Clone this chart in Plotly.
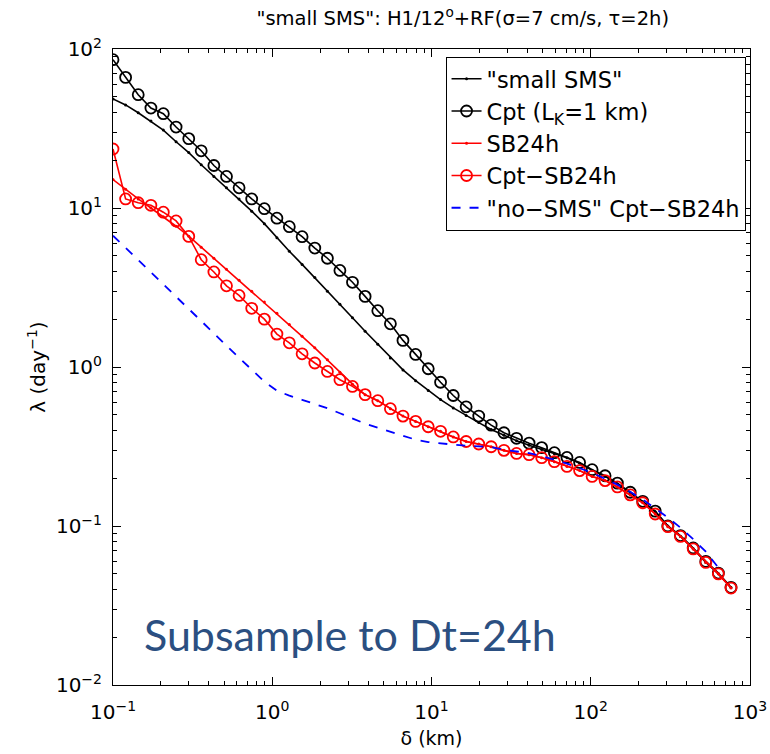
import plotly.graph_objects as go

# delta (km) sample positions
delta = [0.1, 0.12, 0.144, 0.173, 0.207, 0.249, 0.299, 0.358, 0.430, 0.516,
         0.619, 0.743, 0.892, 1.07, 1.28, 1.54, 1.85, 2.22, 2.66, 3.19,
         3.83, 4.60, 5.52, 6.62, 7.95, 9.54, 11.4, 13.7, 16.5, 19.8,
         23.7, 28.5, 34.2, 41.0, 49.2, 59.1, 70.9, 85.1, 102, 123,
         147, 177, 212, 254, 305, 366, 440, 528, 633, 760]

small_sms = [48.5, 44.5, 39.7, 35.2, 30.9, 26.1, 22.3, 18.7, 15.8, 13.4,
             11.4, 9.55, 7.97, 6.50, 5.35, 4.42, 3.65, 3.00, 2.48, 2.04,
             1.68, 1.39, 1.14, 0.959, 0.820, 0.711, 0.624, 0.553, 0.495, 0.447,
             0.405, 0.372, 0.344, 0.322, 0.303, 0.285, 0.269, 0.248, 0.224, 0.205,
             0.184, 0.162, 0.142, 0.123, 0.100, 0.086, 0.072, 0.059, 0.050, 0.041]

cpt = [85.7, 66.3, 51.6, 42.5, 39.2, 32.3, 27.3, 22.9, 18.5, 15.8,
       13.4, 11.4, 9.9, 8.63, 7.63, 6.60, 5.60, 4.83, 4.05, 3.41,
       2.78, 2.26, 1.87, 1.47, 1.20, 0.975, 0.802, 0.662, 0.562, 0.491,
       0.431, 0.386, 0.356, 0.332, 0.311, 0.289, 0.270, 0.251, 0.226, 0.207,
       0.186, 0.163, 0.143, 0.124, 0.100, 0.087, 0.0727, 0.0599, 0.0506, 0.0411]

sb24h = [15.1, 13.1, 11.4, 10.0, 8.82, 7.68, 6.65, 5.67, 4.83, 4.12,
         3.51, 3.00, 2.56, 2.18, 1.85, 1.56, 1.32, 1.11, 0.927, 0.780,
         0.670, 0.614, 0.547, 0.491, 0.455, 0.421, 0.394, 0.363, 0.340, 0.328,
         0.315, 0.299, 0.286, 0.281, 0.269, 0.254, 0.237, 0.223, 0.205, 0.193,
         0.176, 0.157, 0.140, 0.119, 0.099, 0.086, 0.0717, 0.059, 0.050, 0.0407]

cpt_sb24h = [23.5, 11.4, 10.8, 10.4, 9.41, 8.29, 6.63, 4.73, 3.96, 3.24,
             2.82, 2.34, 2.00, 1.61, 1.42, 1.21, 1.06, 0.938, 0.832, 0.755,
             0.670, 0.614, 0.547, 0.491, 0.455, 0.421, 0.394, 0.363, 0.340, 0.328,
             0.315, 0.299, 0.286, 0.281, 0.269, 0.254, 0.237, 0.223, 0.205, 0.193,
             0.176, 0.157, 0.140, 0.119, 0.099, 0.086, 0.0717, 0.059, 0.050, 0.0407]

nosms_cpt_sb24h = [6.70, 5.62, 4.73, 3.97, 3.34, 2.77, 2.33, 1.95, 1.63, 1.36,
                   1.14, 0.962, 0.809, 0.710, 0.660, 0.622, 0.587, 0.550, 0.512, 0.473,
                   0.440, 0.415, 0.392, 0.367, 0.349, 0.337, 0.330, 0.325, 0.320, 0.317,
                   0.313, 0.302, 0.293, 0.287, 0.275, 0.261, 0.247, 0.231, 0.216, 0.198,
                   0.182, 0.164, 0.147, 0.129, 0.113, 0.0976, 0.0826, 0.0689, 0.0547]

names = ['"small SMS"', 'Cpt (L<sub>K</sub>=1 km)', 'SB24h', 'Cpt\u2212SB24h',
         '"no\u2212SMS" Cpt\u2212SB24h']

x_tickvals = [0.1, 1, 10, 100, 1000]
x_ticktext = ["10<sup>\u22121</sup>", "10<sup>0</sup>", "10<sup>1</sup>",
              "10<sup>2</sup>", "10<sup>3</sup>"]
y_tickvals = [0.01, 0.1, 1, 10, 100]
y_ticktext = ["10<sup>\u22122</sup>", "10<sup>\u22121</sup>", "10<sup>0</sup>",
              "10<sup>1</sup>", "10<sup>2</sup>"]
x_minor = [m * d for d in [0.1, 1, 10, 100] for m in range(2, 10)]
y_minor = [m * d for d in [0.01, 0.1, 1, 10] for m in range(2, 10)]

FONT = "DejaVu Sans"

fig = go.Figure()
fig.add_trace(go.Scatter(x=delta, y=small_sms, name=names[0], mode="lines+markers",
                         line=dict(color="black", width=1.6),
                         marker=dict(symbol="circle", size=3, color="black")))
fig.add_trace(go.Scatter(x=delta, y=cpt, name=names[1], mode="lines+markers",
                         line=dict(color="black", width=1.6),
                         marker=dict(symbol="circle-open", size=11, color="black",
                                     line=dict(width=1.8, color="black"))))
fig.add_trace(go.Scatter(x=delta, y=sb24h, name=names[2], mode="lines+markers",
                         line=dict(color="red", width=1.6),
                         marker=dict(symbol="circle", size=3, color="red")))
fig.add_trace(go.Scatter(x=delta, y=cpt_sb24h, name=names[3], mode="lines+markers",
                         line=dict(color="red", width=1.6),
                         marker=dict(symbol="circle-open", size=11, color="red",
                                     line=dict(width=1.8, color="red"))))
fig.add_trace(go.Scatter(x=delta[:len(nosms_cpt_sb24h)], y=nosms_cpt_sb24h, name=names[4],
                         mode="lines", line=dict(color="blue", width=1.8, dash="dash")))

axis_common = dict(type="log", showline=True, linecolor="black", linewidth=1,
                   mirror="ticks", ticks="inside", ticklen=8, tickcolor="black",
                   showgrid=False, zeroline=False, automargin=False,
                   tickfont=dict(family=FONT, size=20, color="black"))

fig.update_xaxes(range=[-1, 3.0], tickmode="array", tickvals=x_tickvals, ticktext=x_ticktext,
                 ticklabelstandoff=9,
                 minor=dict(ticks="inside", ticklen=4, tickcolor="black",
                            tickmode="array", tickvals=x_minor, showgrid=False),
                 title=dict(text="\u03b4 (km)", standoff=8,
                            font=dict(family=FONT, size=19, color="black")), **axis_common)
fig.update_yaxes(range=[-2, 2], tickmode="array", tickvals=y_tickvals, ticktext=y_ticktext,
                 ticklabelstandoff=6,
                 minor=dict(ticks="inside", ticklen=4, tickcolor="black",
                            tickmode="array", tickvals=y_minor, showgrid=False),
                 title=dict(text="\u03bb (day<sup>\u22121</sup>)", standoff=4,
                            font=dict(family=FONT, size=20, color="black")), **axis_common)

fig.add_annotation(text="Subsample to Dt=24h", xref="paper", yref="paper",
                   x=0.046, y=0.079, xanchor="left", yanchor="middle", showarrow=False,
                   font=dict(family="Lato, Open Sans, sans-serif", size=43, color="#2B4F81"))

fig.update_layout(
    width=770, height=754,
    margin=dict(l=113, r=20, t=49, b=69, autoexpand=False),
    paper_bgcolor="white", plot_bgcolor="white",
    title=dict(text='"small SMS": H1/12<sup>o</sup>+RF(\u03c3=7 cm/s, \u03c4=2h)',
               x=0.601, xref="container", xanchor="center", y=0.976, yanchor="middle",
               font=dict(family=FONT, size=19.5, color="black")),
    font=dict(family=FONT, color="black"),
    legend=dict(x=0.993, y=0.988, xanchor="right", yanchor="top",
                bordercolor="black", borderwidth=1, bgcolor="white",
                font=dict(family=FONT, size=22.5, color="black"),
                tracegroupgap=0),
    showlegend=True,
)

fig.write_html("out.html")
